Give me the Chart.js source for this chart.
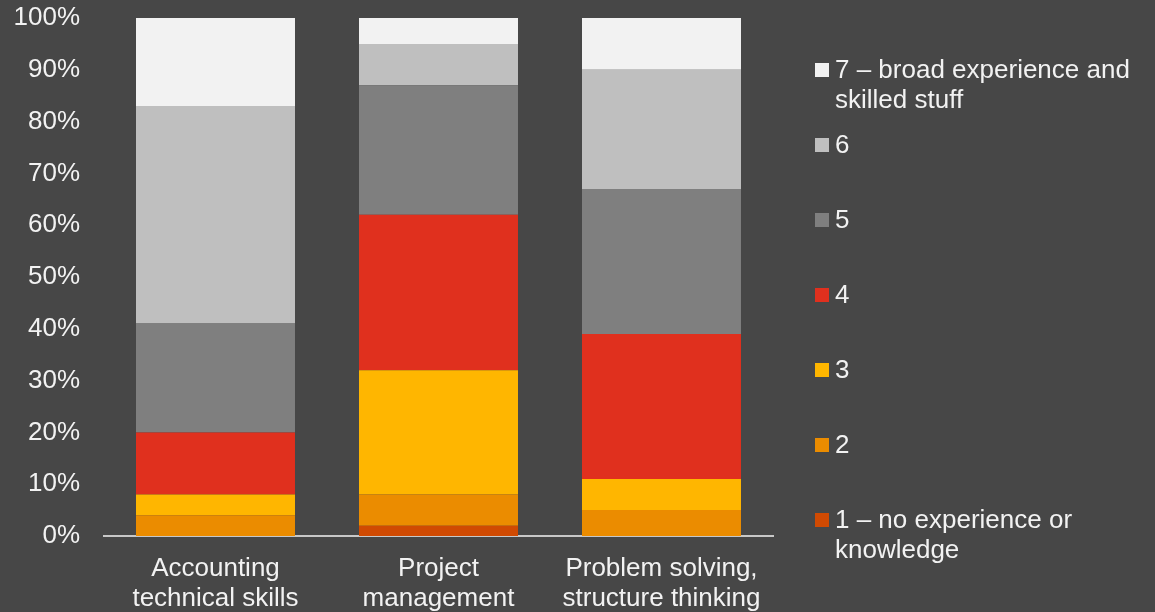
<!DOCTYPE html>
<html>
<head>
<meta charset="utf-8">
<script src="https://cdn.jsdelivr.net/npm/chart.js@4/dist/chart.umd.min.js"></script>
<style>
  html, body { margin: 0; padding: 0; background: #474747; }
  #wrap { width: 1155px; height: 612px; }
</style>
</head>
<body>
<div id="wrap"><canvas id="myChart" width="1155" height="612"></canvas></div>
<script>
const ctx = document.getElementById("myChart").getContext("2d");

// categories (two-line labels)
const categories = [
  ["Accounting", "technical skills"],
  ["Project", "management"],
  ["Problem solving,", "structure thinking"],
];

// rating levels, bottom of the stack first
const levels = [
  ["1 – no experience or", "knowledge"],
  ["2"],
  ["3"],
  ["4"],
  ["5"],
  ["6"],
  ["7 – broad experience and", "skilled stuff"],
];
const colors = ["#d04a02", "#eb8c00", "#ffb600", "#e0301e", "#7f7f7f", "#bfbfbf", "#f2f2f2"];

// share of answers per level (%), one array per level
const level1 = [0, 2, 0];
const level2 = [4, 6, 5];
const level3 = [4, 24, 6];
const level4 = [12, 30, 28];
const level5 = [21, 25, 28];
const level6 = [42, 8, 23];
const level7 = [17, 5, 10];
const seriesValues = [level1, level2, level3, level4, level5, level6, level7];

const yTicks = [0, 10, 20, 30, 40, 50, 60, 70, 80, 90, 100];

const FONT = "'Liberation Sans', Arial, sans-serif";
const TEXT = "#f2f2f2";

// legend on the right, top to bottom 7 -> 1, with wrapped labels
const sideLegend = {
  id: "sideLegend",
  afterDraw(chart) {
    const { ctx, chartArea } = chart;
    const x = chartArea.right + 42;
    const step = 75;
    const top = chartArea.top + 52;
    ctx.save();
    ctx.font = "26px " + FONT;
    ctx.textBaseline = "middle";
    ctx.textAlign = "left";
    for (let i = levels.length - 1, n = 0; i >= 0; i--, n++) {
      const y = top + n * step;
      ctx.fillStyle = colors[i];
      ctx.fillRect(x, y - 7, 14, 14);
      ctx.fillStyle = TEXT;
      levels[i].forEach((line, k) => {
        ctx.fillText(line, x + 20, y + 1 + k * 30);
      });
    }
    ctx.restore();
  },
};

const myChart = new Chart(ctx, {
  type: "bar",
  data: {
    labels: categories,
    datasets: seriesValues.map((vals, i) => ({
      label: levels[i].join(" "),
      data: vals,
      backgroundColor: colors[i],
      borderWidth: 0,
      categoryPercentage: 1,
      barPercentage: 0.713,
    })),
  },
  options: {
    responsive: false,
    animation: false,
    layout: {
      padding: { top: 18, right: 382, bottom: 0, left: 0 },
    },
    scales: {
      x: {
        stacked: true,
        grid: { display: false, drawTicks: false },
        border: { display: true, color: "#c8c8c8", width: 2 },
        ticks: {
          color: TEXT,
          font: { family: FONT, size: 26, lineHeight: 1.16 },
          padding: 18,
          maxRotation: 0,
          autoSkip: false,
        },
        afterFit(scale) {
          scale.height = 76;
          scale.paddingLeft = 0;
          scale.paddingRight = 0;
        },
      },
      y: {
        stacked: true,
        min: 0,
        max: 100,
        afterBuildTicks(scale) {
          scale.ticks = yTicks.map((v) => ({ value: v }));
        },
        grid: { display: false, drawTicks: false },
        border: { display: false },
        ticks: {
          color: TEXT,
          font: { family: FONT, size: 26 },
          padding: 24,
          callback: (v) => v + "%",
        },
        afterFit(scale) {
          scale.width = 104;
          // keep tick padding from pushing the plot area down
          scale.paddingTop = 0;
          scale.paddingBottom = 0;
        },
      },
    },
    plugins: {
      legend: { display: false },
      tooltip: { enabled: false },
    },
  },
  plugins: [sideLegend],
});
</script>
</body>
</html>
